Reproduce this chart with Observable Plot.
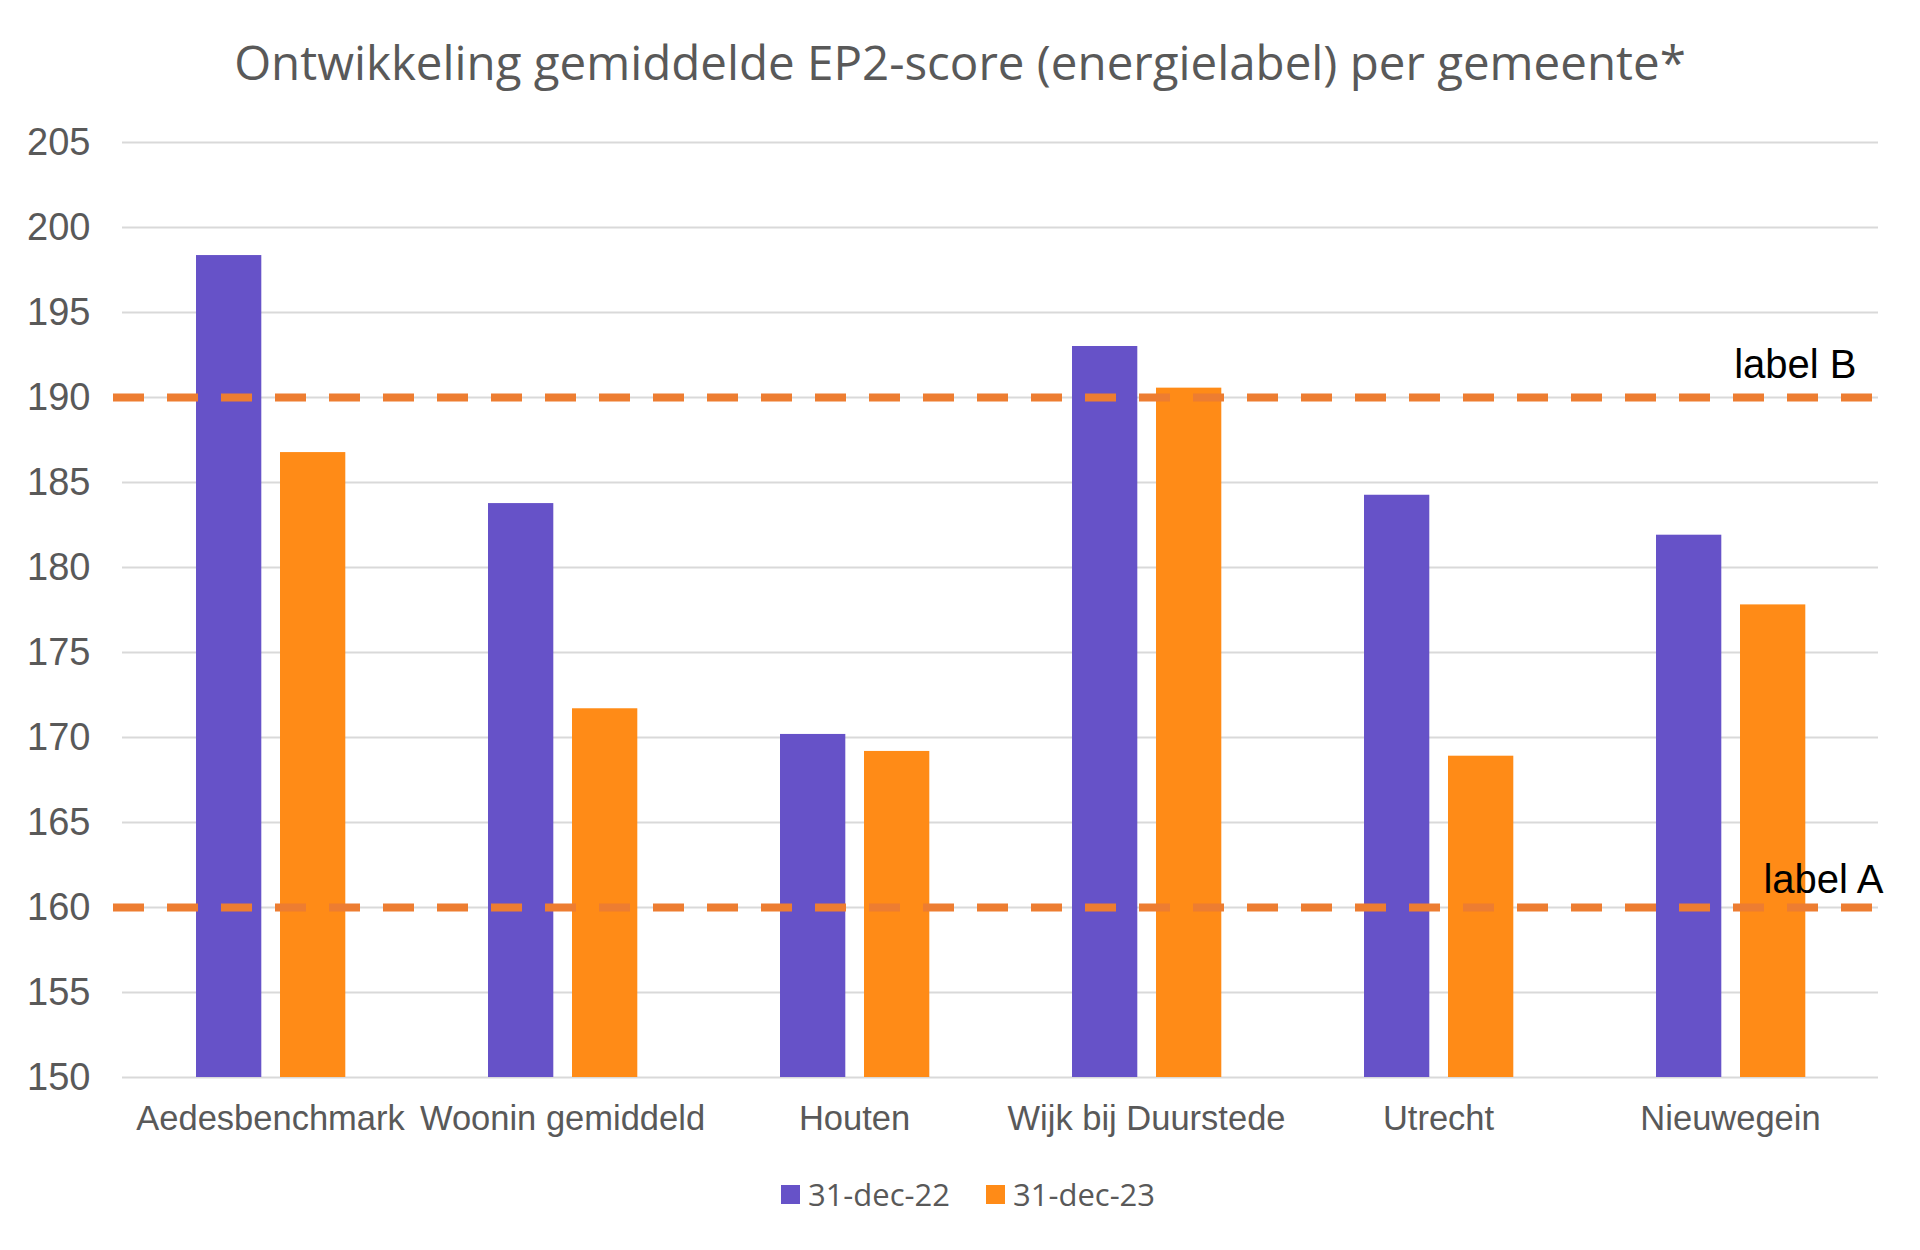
<!DOCTYPE html>
<html>
<head>
<meta charset="utf-8">
<script src="https://cdn.jsdelivr.net/npm/d3@7"></script>
<script src="https://cdn.jsdelivr.net/npm/@observablehq/plot@0.6"></script>
<style>
  html, body { margin: 0; padding: 0; background: #fff; }
  #wrap { position: relative; width: 1920px; height: 1250px; overflow: hidden; background: #fff; }
  #title { position: absolute; left: 0; top: 38px; width: 1920px; text-align: center;
    font-family: "Open Sans", sans-serif; font-size: 47.5px; line-height: 47.5px; color: #595959; white-space: nowrap; }
  #chart { position: absolute; left: 0; top: 100px; }
  #legend { position: absolute; left: 8px; top: 1173px; width: 1920px; display: flex; justify-content: center; align-items: center;
    font-family: "Open Sans", sans-serif; font-size: 31px; color: #595959; }
  .item { display: flex; align-items: center; margin: 0 18px; }
  .sw { width: 19px; height: 19px; margin-right: 8px; }
</style>
</head>
<body>
<div id="wrap">
  <div id="title"></div>
  <div id="chart"></div>
  <div id="legend"></div>
</div>
<script>
const titleText = "Ontwikkeling gemiddelde EP2-score (energielabel) per gemeente*";
const categories = ["Aedesbenchmark", "Woonin gemiddeld", "Houten", "Wijk bij Duurstede", "Utrecht", "Nieuwegein"];
const seriesNames = ["31-dec-22", "31-dec-23"];
const seriesColors = ["#6652C8", "#FF8B17"];
const values2022 = [198.35, 183.76, 170.18, 193.0, 184.25, 181.9];
const values2023 = [186.76, 171.69, 169.18, 190.55, 168.9, 177.8];
const yTicks = [150, 155, 160, 165, 170, 175, 180, 185, 190, 195, 200, 205];
const refValues = [190, 160];
const refLabels = ["label B", "label A"];

document.getElementById("title").textContent = titleText;

const data22 = categories.map((c, i) => ({cat: c, v: values2022[i]}));
const data23 = categories.map((c, i) => ({cat: c, v: values2023[i]}));
const refB = [{v: refValues[0], t: refLabels[0]}];
const refA = [{v: refValues[1], t: refLabels[1]}];

const axisFont = "Liberation Sans, Arial, sans-serif";

const chart = Plot.plot({
  width: 1920,
  height: 1060,
  marginTop: 42,
  marginBottom: 83,
  marginLeft: 122,
  marginRight: 42,
  style: {fontFamily: axisFont, color: "#595959", background: "#fff"},
  x: {type: "band", domain: categories, padding: 0, label: null},
  y: {domain: [150, 205], label: null},
  marks: [
    Plot.gridY(yTicks, {stroke: "#D9D9D9", strokeWidth: 2, strokeOpacity: 1}),
    Plot.barY(data22, {x: "cat", y1: 150, y2: "v", fill: seriesColors[0], insetLeft: 72, insetRight: 154.7}),
    Plot.barY(data23, {x: "cat", y1: 150, y2: "v", fill: seriesColors[1], insetLeft: 156, insetRight: 70.7}),
    Plot.ruleY(refValues, {stroke: "#ED7D31", strokeWidth: 8, strokeDasharray: "31,23", insetLeft: -9, insetRight: 6}),
    Plot.text(refB, {y: "v", text: "t", frameAnchor: "right", textAnchor: "end", dx: -22, dy: -32, fontSize: 40, fill: "#000"}),
    Plot.text(refA, {y: "v", text: "t", frameAnchor: "right", textAnchor: "end", dx: 5, dy: -27, fontSize: 40, fill: "#000"}),
    Plot.axisY({ticks: yTicks, tickSize: 0, tickPadding: 32, fontSize: 38, label: null}),
    Plot.axisX({tickSize: 0, tickPadding: 28, fontSize: 34.5, label: null})
  ]
});
document.getElementById("chart").appendChild(chart);

const legend = document.getElementById("legend");
seriesNames.forEach((name, i) => {
  const item = document.createElement("div");
  item.className = "item";
  const sw = document.createElement("div");
  sw.className = "sw";
  sw.style.background = seriesColors[i];
  const lab = document.createElement("span");
  lab.textContent = name;
  item.appendChild(sw);
  item.appendChild(lab);
  legend.appendChild(item);
});
</script>
</body>
</html>
